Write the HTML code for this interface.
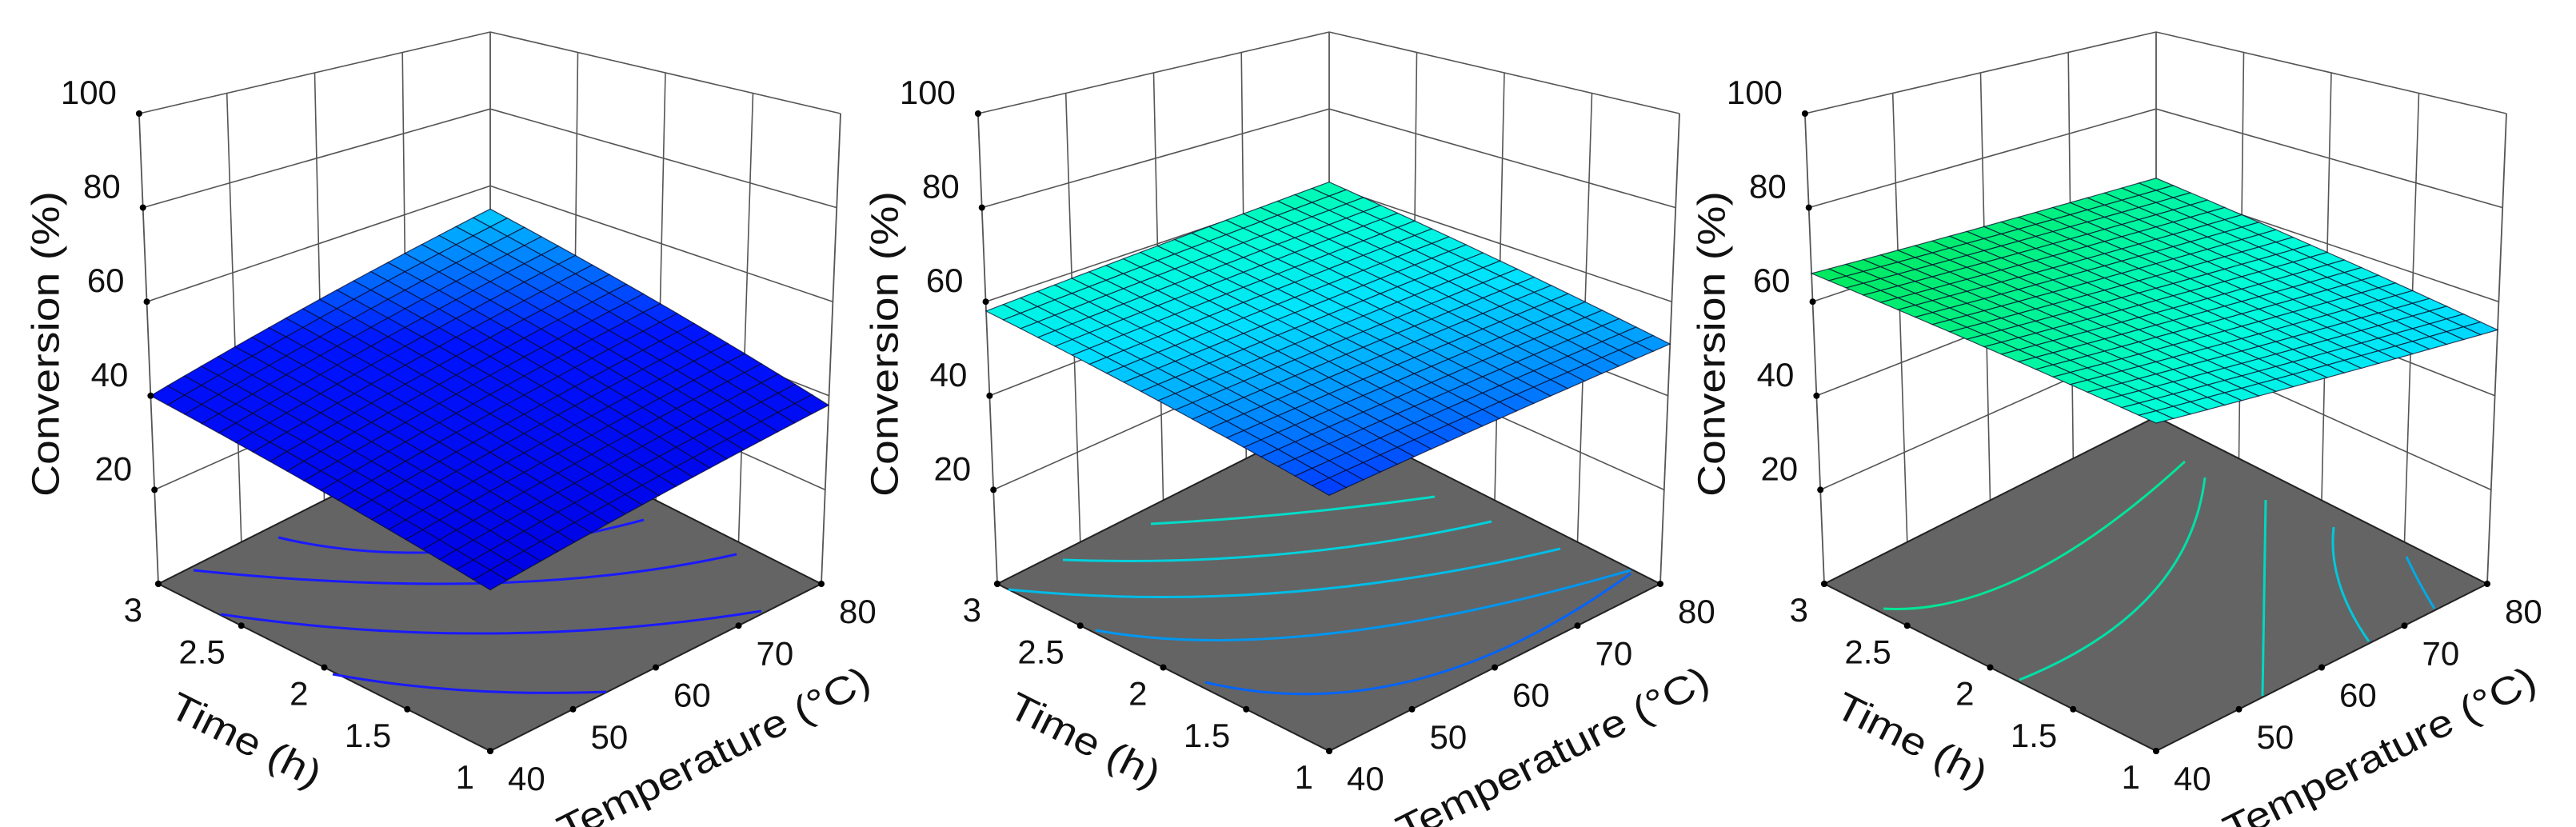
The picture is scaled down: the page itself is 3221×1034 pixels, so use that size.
<!DOCTYPE html>
<html><head><meta charset="utf-8">
<style>
html,body{margin:0;padding:0;background:#fff;}
svg{display:block;}
text{font-family:"Liberation Sans","DejaVu Sans",sans-serif;fill:#111;}
</style></head>
<body>
<svg id="s" width="3221" height="1034" viewBox="0 0 3221 1034" xmlns="http://www.w3.org/2000/svg"></svg>
<script>
const S=document.getElementById('s');
let out='';
function P(dx,u,v,w){
  const F=[613,939],R=[1027,730],L=[198,730],B=[613,521];
  const a=(1-u)*(1-v),b=u*(1-v),c=(1-u)*v,d=u*v;
  const bx=F[0]*a+R[0]*b+L[0]*c+B[0]*d, by=F[1]*a+R[1]*b+L[1]*c+B[1]*d;
  const h=695*a+588*b+588*c+481*d;
  return [bx+(bx-613)*0.058*w+dx, by-h*w];
}
function pt(p){return p[0].toFixed(1)+','+p[1].toFixed(1);}
const stops=[[28,[0,0,225]],[44,[0,20,255]],[50,[0,130,255]],[55,[0,225,255]],[59,[0,255,215]],[63,[0,240,130]],[67,[0,230,80]]];
function col(c){
  if(c<=stops[0][0])return stops[0][1];
  for(let i=1;i<stops.length;i++){ if(c<=stops[i][0]){const t=(c-stops[i-1][0])/(stops[i][0]-stops[i-1][0]);return stops[i-1][1].map((x,k)=>Math.round(x+(stops[i][1][k]-x)*t));}}
  return stops[stops.length-1][1];
}
function line(a,b,st,wd){out+=`<line x1="${a[0].toFixed(1)}" y1="${a[1].toFixed(1)}" x2="${b[0].toFixed(1)}" y2="${b[1].toFixed(1)}" stroke="${st}" stroke-width="${wd}"/>`;}
function Q(p0,m,p2){return [2*m[0]-(p0[0]+p2[0])/2,2*m[1]-(p0[1]+p2[1])/2];}
function panel(dx,vals,contours){
  const g='#555';
  for(let i=1;i<=5;i++){const w=i/5;line(P(dx,0,1,w),P(dx,1,1,w),g,1.6);line(P(dx,1,1,w),P(dx,1,0,w),g,1.6);}
  for(let i=1;i<4;i++){const t=i/4;line(P(dx,t,1,0),P(dx,t,1,1),g,1.6);line(P(dx,1,t,0),P(dx,1,t,1),g,1.6);}
  line(P(dx,0,1,0),P(dx,0,1,1),g,1.8);line(P(dx,1,1,0),P(dx,1,1,1),g,1.8);line(P(dx,1,0,0),P(dx,1,0,1),g,1.8);
  out+=`<polygon points="${pt(P(dx,0,0,0))} ${pt(P(dx,1,0,0))} ${pt(P(dx,1,1,0))} ${pt(P(dx,0,1,0))}" fill="#646464" stroke="#222" stroke-width="2"/>`;
  for(const c of contours){
    const p0=[c[0][0]+dx,c[0][1]],m=[c[1][0]+dx,c[1][1]],p2=[c[2][0]+dx,c[2][1]];
    const q=Q(p0,m,p2);
    out+=`<path d="M${pt(p0)} Q${pt(q)} ${pt(p2)}" fill="none" stroke="${c[3]}" stroke-width="3"/>`;
  }
  const N=20;const [cF,cR,cL,cB]=vals;
  const cv=(u,v)=>cF*(1-u)*(1-v)+cR*u*(1-v)+cL*(1-u)*v+cB*u*v;
  const cells=[];
  for(let i=0;i<N;i++)for(let j=0;j<N;j++)cells.push([i,j]);
  cells.sort((a,b)=>(b[0]+b[1])-(a[0]+a[1]));
  for(const [i,j] of cells){
    const u0=i/N,u1=(i+1)/N,v0=j/N,v1=(j+1)/N;
    const q=[[u0,v0],[u1,v0],[u1,v1],[u0,v1]].map(([u,v])=>P(dx,u,v,cv(u,v)/100));
    const c=col(cv((u0+u1)/2,(v0+v1)/2));
    out+=`<polygon points="${q.map(pt).join(' ')}" fill="rgb(${c})" stroke="#0a0a2a" stroke-opacity="0.75" stroke-width="1.2"/>`;
  }
  for(let i=0;i<=5;i++){const p=P(dx,0,1,i/5);out+=`<circle cx="${p[0]}" cy="${p[1]}" r="4" fill="#000"/>`;
    if(i>0)out+=`<text x="${p[0]-28}" y="${p[1]-12}" font-size="42" text-anchor="end">${i*20}</text>`;}
  const tl=['1','1.5','2','2.5','3'];
  for(let i=0;i<=4;i++){const p=P(dx,0,i/4,0);out+=`<circle cx="${p[0]}" cy="${p[1]}" r="4" fill="#000"/>`;
    out+=`<text x="${p[0]-20}" y="${p[1]+47}" font-size="42" text-anchor="end">${tl[i]}</text>`;}
  for(let i=0;i<=4;i++){const p=P(dx,i/4,0,0);out+=`<circle cx="${p[0]}" cy="${p[1]}" r="4" fill="#000"/>`;
    out+=`<text x="${p[0]+22}" y="${p[1]+49}" font-size="42">${40+i*10}</text>`;}
  out+=`<text transform="translate(${58+dx},430) rotate(-90)" font-size="48" text-anchor="middle" dominant-baseline="central" textLength="382" lengthAdjust="spacingAndGlyphs">Conversion (%)</text>`;
  out+=`<text transform="translate(${307+dx},926) rotate(26.7)" font-size="48" text-anchor="middle" dominant-baseline="central" textLength="205" lengthAdjust="spacingAndGlyphs">Time (h)</text>`;
  out+=`<text transform="translate(${893+dx},944) rotate(-26.7)" font-size="48" text-anchor="middle" dominant-baseline="central" textLength="430" lengthAdjust="spacingAndGlyphs">Temperature (°C)</text>`;
}
const B1='#1a1aff';
panel(0,[29,38,40,54],[
 [[348,672],[560,690],[805,650],B1],
 [[242,713],[613,729],[921,693],B1],
 [[276,768],[613,792],[952,764],B1],
 [[416,843],[580,863],[758,865],B1]
]);
const d2=1049;
panel(d2,[46,51,58,61],[
 [[1439-d2,655],[1616-d2,642],[1794-d2,621],'#00dcc8'],
 [[1329-d2,700],[1602-d2,693],[1865-d2,652],'#00d0dc'],
 [[1261-d2,737],[1602-d2,741],[1951-d2,686],'#00bce6'],
 [[1370-d2,788],[1664-d2,792],[2039-d2,713],'#0096f0'],
 [[1507-d2,853],[1770-d2,850],[2039-d2,717],'#0064ff']
]);
const d3=2083;
panel(d3,[59,54,66,62],[
 [[2355-d3,761],[2532-d3,720],[2732-d3,577],'#00e696'],
 [[2525-d3,850],[2689-d3,744],[2757-d3,597],'#00e0a8'],
 [[2829-d3,870],[2831-d3,748],[2833-d3,625],'#00d8c0'],
 [[2962-d3,802],[2925-d3,729],[2918-d3,659],'#00c8dc'],
 [[3044-d3,761],[3025-d3,728],[3009-d3,696],'#00aae6']
]);
S.innerHTML=out;
</script>
</body></html>
